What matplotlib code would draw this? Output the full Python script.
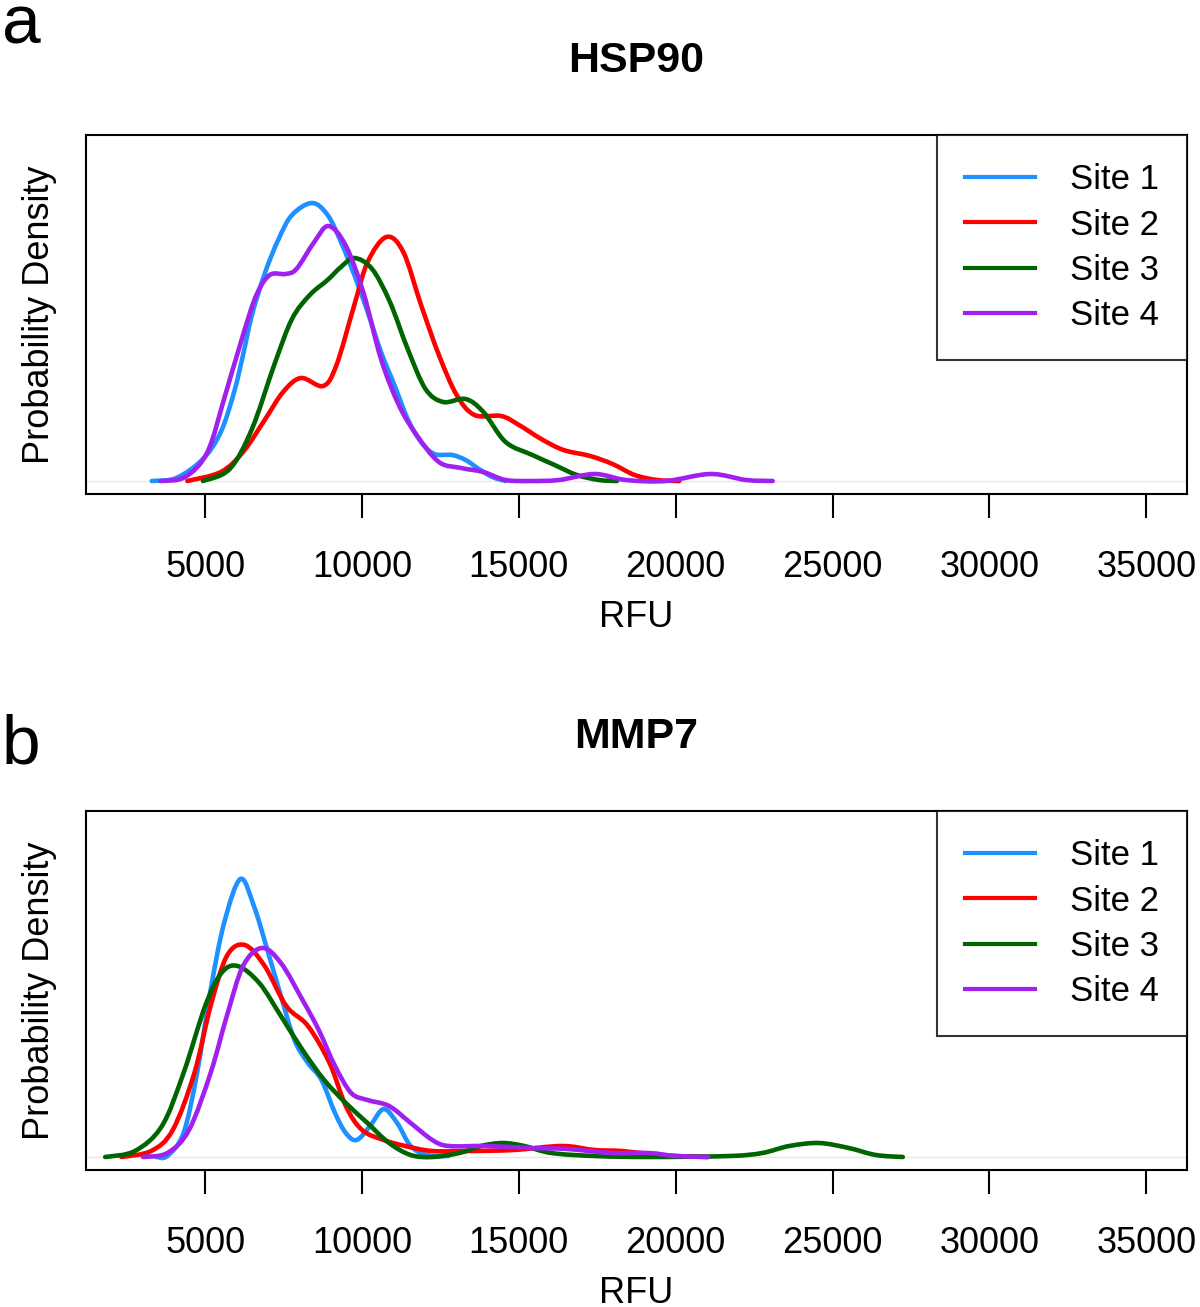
import numpy as np
import matplotlib
matplotlib.use("Agg")
import matplotlib.pyplot as plt
from matplotlib.path import Path
from matplotlib.patches import PathPatch
from matplotlib.lines import Line2D

plt.rcParams['font.family'] = ['Liberation Sans', 'DejaVu Sans']

# site names / colours
sites = ['Site 1', 'Site 2', 'Site 3', 'Site 4']
colors = ['#1E90FF', '#FF0000', '#006400', '#A020F0']

# ---- panel a : HSP90 (RFU, density in arbitrary units) ----
hsp_x1 = [3297, 4078, 4929, 5497, 5922, 6206, 6490, 6916, 7341, 7767, 8406, 8902, 9328, 9754,
          10179, 10605, 11031, 11456, 11882, 12308, 12875, 13301, 13727, 14153, 14578]
hsp_y1 = [0, 3, 22, 49, 89, 126, 166, 209, 242, 266, 278, 266, 239, 206,
          169, 129, 96, 62, 39, 27, 26, 21, 12, 4, 0]
hsp_x2 = [4432, 5497, 6206, 6916, 7483, 8051, 8760, 9186, 9754, 10179, 10775, 11315, 11882, 12450,
          13017, 13585, 14436, 15004, 15713, 16423, 17274, 17984, 18693, 19403, 20113]
hsp_y2 = [0, 9, 29, 62, 89, 103, 95, 116, 176, 219, 244, 229, 176, 126,
          86, 66, 65, 56, 42, 31, 25, 17, 6, 1, 0]
hsp_x3 = [4929, 5780, 6490, 7200, 7767, 8335, 8902, 9328, 9754, 10321, 10889, 11456, 12024, 12592,
          13301, 13869, 14578, 15430, 16139, 16849, 17558, 18126]
hsp_y3 = [0, 12, 52, 116, 162, 186, 201, 214, 223, 212, 179, 132, 92, 79,
          82, 69, 39, 26, 16, 6, 1, 0]
hsp_x4 = [3581, 4361, 5071, 5639, 6206, 6632, 7058, 7554, 7909, 8477, 8931, 9470, 10037, 10605,
          11173, 11740, 12450, 13159, 13869, 14578, 15430, 16281, 17416, 18410, 19687, 21106,
          22241, 23092]
hsp_y4 = [0, 4, 29, 86, 146, 186, 206, 207, 212, 239, 255, 236, 189, 122,
          76, 46, 19, 13, 9, 1, 0, 1, 7, 1, 0, 7, 1, 0]

# ---- panel b : MMP7 ----
mmp_x1 = [3448, 3793, 4310, 4741, 5172, 5603, 6121, 6552, 6983, 7414, 7845, 8276, 8707, 9138,
          9482, 9827, 10258, 10689, 11120, 11551, 12068, 12758]
mmp_y1 = [0, 1, 24, 84, 167, 234, 278, 251, 207, 161, 117, 94, 77, 44,
          24, 17, 31, 48, 34, 11, 2, 1]
mmp_x2 = [2328, 3276, 3966, 4655, 5172, 5690, 6259, 6896, 7586, 8276, 8965, 9482, 10000, 10689,
          11379, 12241, 13448, 14827, 16378, 17413, 18275, 19137, 19999, 21033]
mmp_y2 = [0, 6, 27, 84, 151, 201, 212, 191, 151, 131, 94, 51, 27, 17,
          11, 6, 6, 7, 11, 7, 6, 3, 1, 0]
mmp_x3 = [1811, 2759, 3621, 4310, 5000, 5517, 6034, 6724, 7414, 8103, 8793, 9482, 10172, 10862,
          11551, 12241, 13103, 13792, 14482, 15172, 16034, 17413, 19137, 21723, 22757, 23619,
          24567, 25516, 26378, 27240]
mmp_y3 = [0, 6, 31, 84, 151, 184, 191, 174, 141, 107, 77, 54, 34, 14,
          2, 0, 4, 11, 14, 11, 4, 1, 0, 1, 4, 11, 14, 9, 2, 0]
mmp_x4 = [3017, 3793, 4483, 5172, 5690, 6207, 6810, 7414, 8103, 8620, 9138, 9655, 10172, 10862,
          11551, 12241, 12758, 13965, 15344, 16551, 17930, 19137, 19999, 21033]
mmp_y4 = [0, 4, 27, 84, 141, 191, 209, 194, 157, 127, 91, 64, 57, 51,
          34, 17, 11, 11, 9, 8, 4, 4, 1, 0]

xticks = [5000, 10000, 15000, 20000, 25000, 30000, 35000]

panels = [
    ('a', 'HSP90', [(hsp_x1, hsp_y1), (hsp_x2, hsp_y2), (hsp_x3, hsp_y3), (hsp_x4, hsp_y4)]),
    ('b', 'MMP7', [(mmp_x1, mmp_y1), (mmp_x2, mmp_y2), (mmp_x3, mmp_y3), (mmp_x4, mmp_y4)]),
]


def smooth_path(x, y):
    # catmull-rom through the read points, written as cubic bezier segments
    p = np.column_stack([x, y]).astype(float)
    p = np.vstack([p[0], p, p[-1]])
    verts = [p[1]]
    codes = [Path.MOVETO]
    for i in range(1, len(p) - 2):
        c1 = p[i] + (p[i + 1] - p[i - 1]) / 6
        c2 = p[i + 1] - (p[i + 2] - p[i]) / 6
        verts += [c1, c2, p[i + 1]]
        codes += [Path.CURVE4] * 3
    return Path(verts, codes)


W, H = 1200, 1307
fig = plt.figure(figsize=(W / 100, H / 100), dpi=100)

# pixel layout of each panel: axes top, axes bottom, letter baseline
layout = [(135, 494, 44), (811, 1170, 763)]

for (letter, title, curves), (top, bot, let_y) in zip(panels, layout):
    ax = fig.add_axes([86 / W, 1 - bot / H, 1101 / W, (bot - top) / H])
    ax.axhline(0, color='#e6e6e6', lw=1, zorder=1)
    handles = []
    for (x, y), c, s in zip(curves, colors, sites):
        ax.add_patch(PathPatch(smooth_path(x, y), facecolor='none', edgecolor=c, lw=3.3,
                               capstyle='round', joinstyle='round', zorder=2))
        handles.append(Line2D([], [], color=c, lw=3, label=s))
    ax.set_xlim(1200, 36300)
    ax.set_ylim(-13, 346)
    ax.set_yticks([])
    ax.set_xticks(xticks)
    ax.set_xticklabels([str(t) for t in xticks])
    ax.tick_params(axis='x', labelsize=26, length=17.5, width=1.5, pad=23)
    for sp in ax.spines.values():
        sp.set_linewidth(1.5)

    leg = ax.legend(handles=handles, loc='upper right', fontsize=25, frameon=True,
                    fancybox=False, borderaxespad=0, handlelength=2.0, handletextpad=1.0,
                    labelspacing=0.35, borderpad=0.82)
    leg.get_frame().set_edgecolor('black')
    leg.get_frame().set_linewidth(1.5)

    fig.text(636.5 / W, 1 - (top - 63) / H, title, ha='center', va='baseline',
             fontsize=31, fontweight='bold')
    fig.text(636.5 / W, 1 - (bot + 133) / H, 'RFU', ha='center', va='baseline', fontsize=26)
    fig.text(40 / W, 1 - (top + bot) / 2 / H, 'Probability Density', rotation=90,
             ha='center', va='center', fontsize=26)
    fig.text(2 / W, 1 - let_y / H, letter, ha='left', va='baseline', fontsize=50)

fig.savefig('out.png', dpi=100)
